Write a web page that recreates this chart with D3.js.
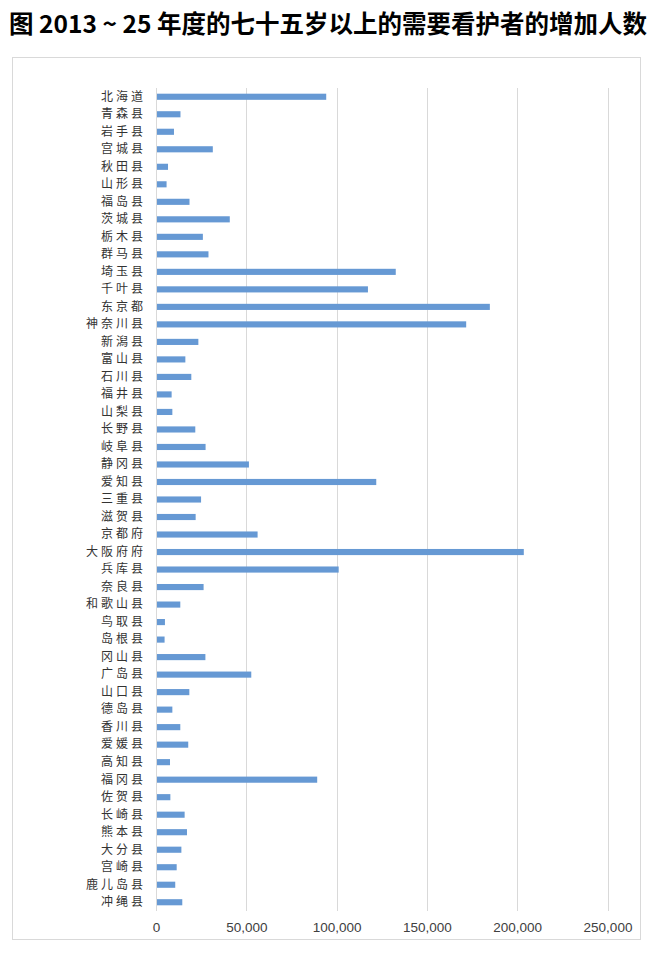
<!DOCTYPE html>
<html>
<head>
<meta charset="utf-8">
<script src="https://cdn.jsdelivr.net/npm/d3@7"></script>
<style>
  body { margin: 0; background: #fff; }
  svg { display: block; }
</style>
</head>
<body>
<svg id="chart" width="657" height="955"></svg>
<script>
// prefectures, top to bottom
const prefectures = [
  "北海道", "青森县", "岩手县", "宫城县", "秋田县", "山形县", "福岛县", "茨城县",
  "栃木县", "群马县", "埼玉县", "千叶县", "东京都", "神奈川县", "新潟县", "富山县",
  "石川县", "福井县", "山梨县", "长野县", "岐阜县", "静冈县", "爱知县", "三重县",
  "滋贺县", "京都府", "大阪府府", "兵库县", "奈良县", "和歌山县", "鸟取县", "岛根县",
  "冈山县", "广岛县", "山口县", "德岛县", "香川县", "爱媛县", "高知县", "福冈县",
  "佐贺县", "长崎县", "熊本县", "大分县", "宫崎县", "鹿儿岛县", "冲绳县"
];

// increase in people needing care, 2013-25
const increase = [
  93700, 13000, 9400, 30900, 6100, 5300, 18000, 40300,
  25400, 28500, 132200, 116800, 184300, 171200, 22900, 15700,
  19000, 8100, 8500, 21200, 26900, 50900, 121400, 24400,
  21400, 55700, 203100, 100600, 25800, 12900, 4400, 4200,
  26800, 52200, 17900, 8500, 12900, 17300, 7200, 88700,
  7400, 15300, 16600, 13500, 10900, 10100, 14000
];

const xTicks = [0, 50000, 100000, 150000, 200000, 250000];

const title = "图  2013 ~ 25 年度的七十五岁以上的需要看护者的增加人数";

const svg = d3.select("#chart");

// title
svg.append("text")
    .attr("x", 9)
    .attr("y", 33)
    .attr("font-family", "'Noto Sans CJK SC', sans-serif")
    .attr("font-weight", "bold")
    .attr("font-size", 24.5)
    .attr("fill", "#000")
    .text(title);

// chart frame
svg.append("rect")
    .attr("x", 12.5)
    .attr("y", 57.5)
    .attr("width", 628)
    .attr("height", 882)
    .attr("fill", "#fff")
    .attr("stroke", "#d9d9d9");

const plot = {left: 156, right: 607.5, top: 88, bottom: 911};

const x = d3.scaleLinear()
    .domain([0, 250000])
    .range([plot.left, plot.right]);

const y = d3.scaleBand()
    .domain(prefectures)
    .range([plot.top, plot.bottom])
    .paddingInner(0.65)
    .paddingOuter(0.325);

// vertical gridlines
svg.append("g")
    .selectAll("line")
    .data(xTicks)
    .join("line")
    .attr("x1", d => Math.round(x(d)) + 0.5)
    .attr("x2", d => Math.round(x(d)) + 0.5)
    .attr("y1", plot.top)
    .attr("y2", plot.bottom)
    .attr("stroke", "#d9d9d9")
    .attr("stroke-width", 1);

// bars
svg.append("g")
    .selectAll("rect")
    .data(prefectures)
    .join("rect")
    .attr("x", x(0) + 1)
    .attr("y", d => y(d))
    .attr("width", (d, i) => x(increase[i]) - x(0))
    .attr("height", y.bandwidth())
    .attr("fill", "#6699d4");

// category axis -- small font + letter spacing so rows don't collide
const yAxis = svg.append("g")
    .attr("transform", `translate(${plot.left},0)`)
    .call(d3.axisLeft(y).tickSize(0).tickPadding(10));
yAxis.select(".domain").remove();
yAxis.selectAll("text")
    .attr("font-family", "'Noto Sans CJK SC', sans-serif")
    .attr("font-size", 12)
    .attr("letter-spacing", 3)
    .attr("fill", "#333");

// value axis
const xAxis = svg.append("g")
    .attr("transform", `translate(0,${plot.bottom})`)
    .call(d3.axisBottom(x).tickValues(xTicks).tickSize(0).tickPadding(11)
        .tickFormat(d3.format(",")));
xAxis.select(".domain").remove();
xAxis.selectAll("text")
    .attr("font-family", "'Liberation Sans', Arial, sans-serif")
    .attr("font-size", 13.5)
    .attr("fill", "#404040");
</script>
</body>
</html>
